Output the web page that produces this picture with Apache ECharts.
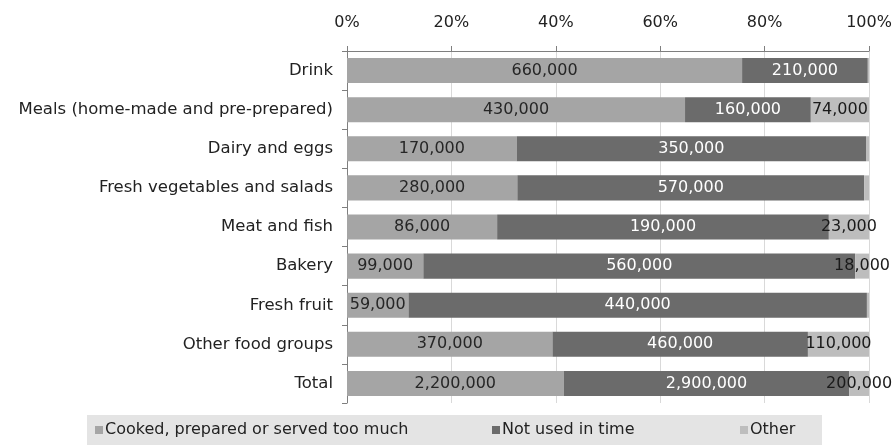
<!DOCTYPE html>
<html>
<head>
<meta charset="utf-8">
<script src="https://cdn.jsdelivr.net/npm/echarts@6/dist/echarts.min.js"></script>
<style>
  html, body { margin: 0; padding: 0; background: #fff; }
  #chart { width: 896px; height: 445px; }
</style>
</head>
<body>
<div id="chart"></div>
<script>
// Food waste by food group and reason (tonnes)
const categories = [
  'Drink',
  'Meals (home-made and pre-prepared)',
  'Dairy and eggs',
  'Fresh vegetables and salads',
  'Meat and fish',
  'Bakery',
  'Fresh fruit',
  'Other food groups',
  'Total'
];
const seriesNames = ['Cooked, prepared or served too much', 'Not used in time', 'Other'];
const cooked  = [660000, 430000, 170000, 280000, 86000, 99000, 59000, 370000, 2200000];
const notUsed = [210000, 160000, 350000, 570000, 190000, 560000, 440000, 460000, 2900000];
const other   = [2000, 74000, 3000, 8000, 23000, 18000, 2000, 110000, 200000];
const percentTicks = [0, 20, 40, 60, 80, 100];

const FONT = 'DejaVu Sans';
const colors = ['#a5a5a5', '#6b6b6b', '#bdbdbd'];
const labelColors = ['#262626', '#ffffff', '#1a1a1a'];
const rawValues = [cooked, notUsed, other];

// Share of each row's total, so every bar spans 0-100%
const totals = categories.map((_, i) => cooked[i] + notUsed[i] + other[i]);
const fmt = v => v.toLocaleString('en-US');

const series = rawValues.map((arr, s) => ({
  name: seriesNames[s],
  type: 'bar',
  stack: 'share',
  barCategoryGap: '36%',
  itemStyle: { color: colors[s] },
  data: arr.map((v, i) => ({ value: v / totals[i] * 100, raw: v })),
  label: {
    show: true,
    position: 'inside',
    fontFamily: FONT,
    fontSize: 16,
    color: labelColors[s],
    formatter: p => (p.data.raw >= 10000 ? fmt(p.data.raw) : '')
  }
}));

const legendLefts = [95, 492, 740];
const legends = seriesNames.map((n, k) => ({
  data: [n],
  left: legendLefts[k],
  top: 422,
  padding: 0,
  icon: 'rect',
  itemWidth: 8,
  itemHeight: 8,
  itemGap: 0,
  textStyle: { fontFamily: FONT, fontSize: 16, color: '#222', padding: [0, 0, 0, -3] }
}));

const chart = echarts.init(document.getElementById('chart'), null, { renderer: 'canvas' });
chart.setOption({
  animation: false,
  backgroundColor: '#ffffff',
  grid: { left: 347, right: 27, top: 51, bottom: 42 },
  graphic: [{
    type: 'rect',
    z: -10,
    shape: { x: 87, y: 415, width: 735, height: 30 },
    style: { fill: '#e4e4e4' }
  }],
  legend: legends,
  xAxis: {
    type: 'value',
    position: 'top',
    min: percentTicks[0],
    max: percentTicks[percentTicks.length - 1],
    interval: 20,
    axisLine: { show: true, lineStyle: { color: '#7f7f7f', width: 1 } },
    axisTick: { show: true, length: 5, lineStyle: { color: '#7f7f7f' } },
    splitLine: { show: true, lineStyle: { color: '#d9d9d9', width: 1 } },
    axisLabel: {
      fontFamily: FONT, fontSize: 16, color: '#222', margin: 20,
      formatter: v => v + '%'
    }
  },
  yAxis: {
    type: 'category',
    data: categories,
    inverse: true,
    axisLine: { show: true, lineStyle: { color: '#7f7f7f', width: 1 } },
    axisTick: { show: true, length: 5, lineStyle: { color: '#7f7f7f' } },
    axisLabel: { fontFamily: FONT, fontSize: 16.5, color: '#222', margin: 14 }
  },
  series: series
});
</script>
</body>
</html>
